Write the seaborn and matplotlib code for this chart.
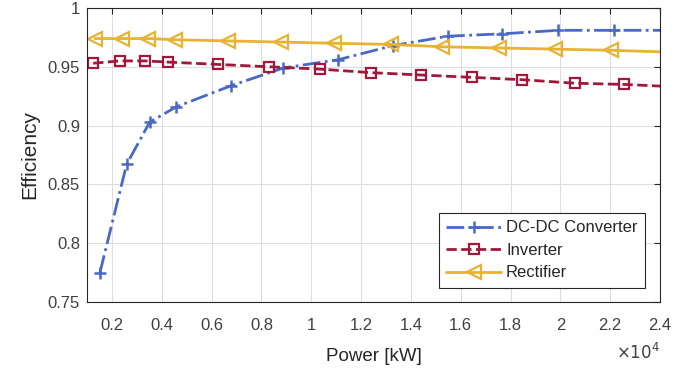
"""
Efficiency vs power for DC-DC converter, inverter and rectifier.
"""
import pandas as pd
import seaborn as sns
import matplotlib.pyplot as plt
from matplotlib.ticker import FuncFormatter, MultipleLocator

# values (power in kW)
dcdc_power = [1520, 2590, 3520, 4590, 6800, 8880, 11080, 13280, 15480, 17640, 19920, 22160, 24400]
dcdc_eff = [0.775, 0.867, 0.903, 0.916, 0.934, 0.949, 0.956, 0.968, 0.976, 0.978, 0.981, 0.981, 0.981]

inv_power = [1250, 2320, 3320, 4250, 6250, 8320, 10350, 12410, 14410, 16450, 18480, 20590, 22560, 24600]
inv_eff = [0.953, 0.955, 0.955, 0.954, 0.952, 0.950, 0.948, 0.945, 0.943, 0.941, 0.939, 0.936, 0.935, 0.933]

rect_power = [1320, 2390, 3450, 4520, 6650, 8790, 10920, 13190, 15250, 17520, 19790, 22050, 24400]
rect_eff = [0.974, 0.974, 0.974, 0.973, 0.972, 0.971, 0.970, 0.969, 0.967, 0.966, 0.965, 0.964, 0.9625]

x_ticks = [2000, 4000, 6000, 8000, 10000, 12000, 14000, 16000, 18000, 20000, 22000, 24000]


def main():
    sns.set_style("whitegrid")
    plt.rcParams['font.family'] = ['Liberation Sans', 'DejaVu Sans']

    fig = plt.figure(figsize=(6.97, 3.71), dpi=100)
    ax = fig.add_axes([0.1248, 0.186, 0.8221, 0.7925])

    dcdc = pd.DataFrame({"power": dcdc_power, "eff": dcdc_eff})
    inv = pd.DataFrame({"power": inv_power, "eff": inv_eff})
    rect = pd.DataFrame({"power": rect_power, "eff": rect_eff})

    blue, red, yellow = "#4a68c6", "#a2173a", "#e8b232"

    sns.lineplot(data=dcdc, x="power", y="eff", ax=ax, color=blue, linestyle="-.",
                 linewidth=2, marker="+", markersize=9, markeredgewidth=1.8,
                 markeredgecolor=blue, label="DC-DC Converter")
    sns.lineplot(data=inv, x="power", y="eff", ax=ax, color=red, linestyle="--",
                 linewidth=2, marker="s", markersize=7, markeredgewidth=1.6,
                 markerfacecolor="none", markeredgecolor=red, label="Inverter")
    sns.lineplot(data=rect, x="power", y="eff", ax=ax, color=yellow, linestyle="-",
                 linewidth=2, marker="<", markersize=10, markeredgewidth=1.6,
                 markerfacecolor="none", markeredgecolor=yellow, label="Rectifier")

    ax.set_xlim(1000, 24000)
    ax.set_ylim(0.75, 1.0)
    ax.set_xticks(x_ticks)
    ax.yaxis.set_major_locator(MultipleLocator(0.05))
    ax.xaxis.set_major_formatter(FuncFormatter(lambda v, p: f"{v / 1e4:g}"))
    ax.yaxis.set_major_formatter(FuncFormatter(lambda v, p: f"{v:g}"))

    ax.grid(True, color="#dedede", linewidth=0.8)
    for s in ax.spines.values():
        s.set_color("#262626")
        s.set_linewidth(0.8)
    ax.tick_params(axis="both", direction="in", length=4, width=0.8, color="#262626",
                   labelsize=12, labelcolor="#404040", top=True, right=True)
    ax.tick_params(axis="x", pad=11.5)
    ax.tick_params(axis="y", pad=5)

    ax.set_xlabel("Power [kW]", fontsize=13.5, color="#262626", labelpad=11)
    ax.set_ylabel("Efficiency", fontsize=15, color="#262626", labelpad=6)
    ax.text(1.0, -0.135, r"$\times10^{4}$", transform=ax.transAxes, ha="right",
            va="top", fontsize=12, color="#404040")

    leg = ax.legend(loc="lower right", bbox_to_anchor=(0.974, 0.048), borderaxespad=0,
                    fontsize=12, fancybox=False, framealpha=1, edgecolor="#262626",
                    handlelength=3.3, handletextpad=0.3, borderpad=0.45, labelspacing=0.45)
    leg.get_frame().set_linewidth(0.8)

    fig.savefig("out.png", dpi=100)
    plt.close(fig)


if __name__ == "__main__":
    main()
